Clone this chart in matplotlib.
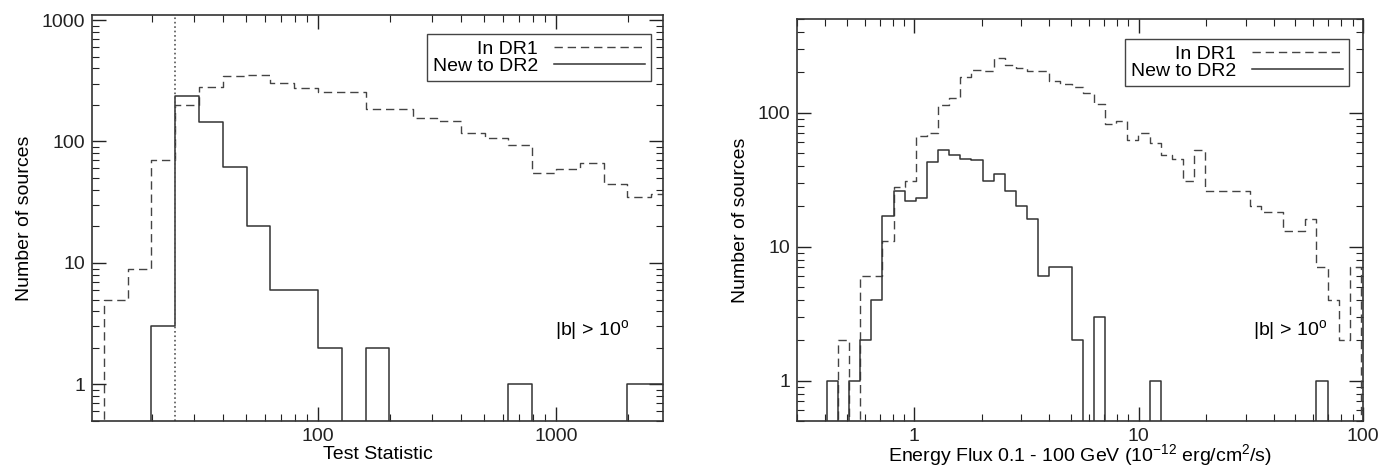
import numpy as np
import matplotlib.pyplot as plt
from matplotlib import ticker

plt.rcParams['font.family'] = ['Liberation Sans', 'DejaVu Sans']
plt.rcParams['mathtext.default'] = 'regular'
plt.rcParams['font.size'] = 14

# left panel: Test Statistic histogram, bins of 0.1 dex starting at TS = 10
ts_log_edges = np.arange(1.0, 3.55, 0.1)
ts_dr1 = [0, 5, 9, 70, 200, 280, 345, 355, 305, 277, 257, 257, 186,
          186, 155, 148, 117, 107, 94, 55, 59, 66, 45, 35, 37]
ts_new = [0, 0, 0, 3, 235, 145, 62, 20, 6, 6, 2, 0, 2,
          0, 0, 0, 0, 0, 1, 0, 0, 0, 0, 1, 1]
ts_cut = 25

# right panel: energy flux histogram (1e-12 erg/cm2/s), log bins
flux_log_start = -0.39
flux_log_width = 0.0496
flux_dr1 = [0, 2, 0, 6, 6, 11, 28, 31, 67, 71,
            115, 129, 183, 208, 205, 258, 225, 217, 205, 205,
            171, 165, 156, 139, 117, 83, 87, 62, 70, 59,
            48, 45, 31, 53, 26, 26, 26, 26, 20, 18,
            18, 13, 13, 16, 7, 4, 2, 7]
flux_new = [1, 0, 1, 2, 4, 17, 26, 22, 23, 43,
            53, 48, 45, 44, 31, 35, 26, 20, 16, 6,
            7, 7, 2, 0, 3, 0, 0, 0, 0, 1,
            0, 0, 0, 0, 0, 0, 0, 0, 0, 0,
            0, 0, 0, 0, 1, 0, 0, 0]
flux_log_edges = flux_log_start + flux_log_width * np.arange(len(flux_dr1) + 1)

legend_labels = ['In DR1', 'New to DR2']
lat_text = '|b| > 10$^{o}$'


def step_xy(log_edges, counts, floor=1e-2):
    edges = 10 ** np.asarray(log_edges)
    c = np.asarray(counts, dtype=float)
    c = np.where(c > 0, c, floor)
    x = np.repeat(edges, 2)
    y = np.concatenate([[floor], np.repeat(c, 2), [floor]])
    return x, y


def style_axes(ax):
    ax.set_xscale('log')
    ax.set_yscale('log')
    ax.tick_params(which='both', direction='in', top=True, right=True,
                   colors='#222222', labelsize=14)
    ax.tick_params(which='major', length=10, width=1.0)
    ax.tick_params(which='minor', length=5, width=0.8)
    ax.tick_params(axis='x', pad=5)
    ax.tick_params(axis='y', pad=5)
    fmt = ticker.FuncFormatter(lambda v, p: '%g' % v)
    ax.xaxis.set_major_formatter(fmt)
    ax.yaxis.set_major_formatter(fmt)
    ax.xaxis.set_minor_formatter(ticker.NullFormatter())
    ax.yaxis.set_minor_formatter(ticker.NullFormatter())
    for s in ax.spines.values():
        s.set_linewidth(1.2)
        s.set_color('#333333')


def add_legend(ax, anchor):
    leg = ax.legend(loc='upper right', bbox_to_anchor=anchor, markerfirst=False,
                    handlelength=4.7, handletextpad=0.8, labelspacing=0.0,
                    borderpad=0.3, borderaxespad=0, fancybox=False,
                    edgecolor='#444444', framealpha=1, fontsize=14)
    leg.get_frame().set_linewidth(1.0)


dash = (0, (6, 3.5))

fig = plt.figure(figsize=(13.95, 4.71), dpi=100)

# ---- left: Test Statistic
ax1 = fig.add_axes([92/1395, 50/471, 571/1395, 406/471])
x, y = step_xy(ts_log_edges, ts_dr1)
ax1.plot(x, y, color='#444444', lw=1.0, ls=dash, label=legend_labels[0])
x, y = step_xy(ts_log_edges, ts_new)
ax1.plot(x, y, color='#333333', lw=1.1, label=legend_labels[1])
ax1.axvline(ts_cut, color='#555555', lw=1.2, ls=':')
style_axes(ax1)
ax1.set_xlim(10 ** 1.05, 10 ** 3.45)
ax1.set_ylim(0.5, 1100)
ax1.set_xlabel('Test Statistic', labelpad=1)
ax1.set_ylabel('Number of sources', labelpad=6)
ax1.text(0.811, 0.224, lat_text, transform=ax1.transAxes, ha='left', va='center')
add_legend(ax1, (0.979, 0.953))

# ---- right: Energy flux
ax2 = fig.add_axes([797/1395, 50/471, 566/1395, 402/471])
x, y = step_xy(flux_log_edges, flux_dr1)
ax2.plot(x, y, color='#444444', lw=1.0, ls=dash, label=legend_labels[0])
x, y = step_xy(flux_log_edges, flux_new)
ax2.plot(x, y, color='#333333', lw=1.1, label=legend_labels[1])
style_axes(ax2)
ax2.set_xlim(0.3, 100)
ax2.set_ylim(0.5, 500)
ax2.set_xlabel('Energy Flux 0.1 - 100 GeV (10$^{-12}$ erg/cm$^2$/s)', labelpad=-2)
ax2.set_ylabel('Number of sources', labelpad=6)
ax2.text(0.806, 0.226, lat_text, transform=ax2.transAxes, ha='left', va='center')
add_legend(ax2, (0.975, 0.95))

fig.savefig('out.png', dpi=100)
